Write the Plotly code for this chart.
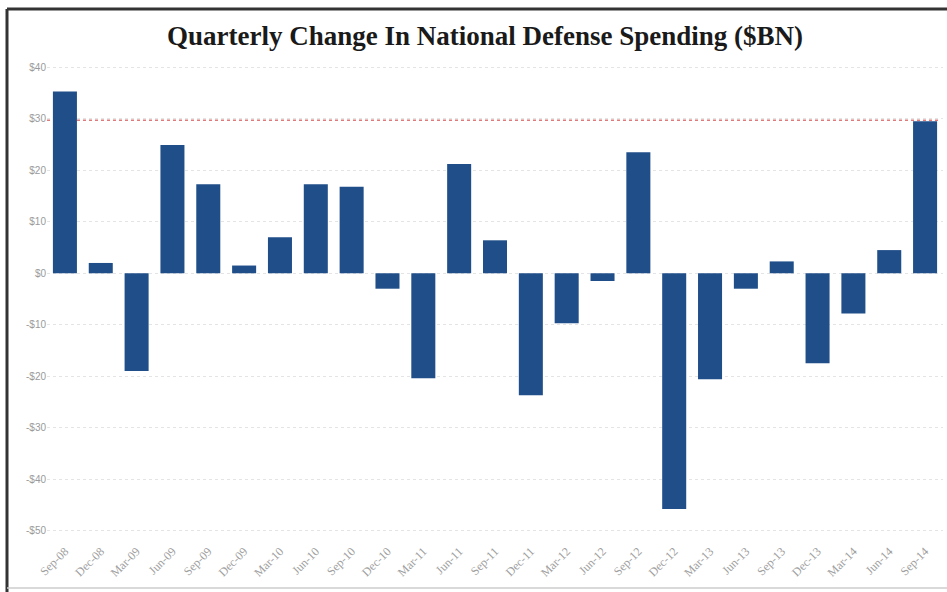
import plotly.graph_objects as go

categories = ["Sep-08", "Dec-08", "Mar-09", "Jun-09", "Sep-09", "Dec-09", "Mar-10", "Jun-10",
              "Sep-10", "Dec-10", "Mar-11", "Jun-11", "Sep-11", "Dec-11", "Mar-12", "Jun-12",
              "Sep-12", "Dec-12", "Mar-13", "Jun-13", "Sep-13", "Dec-13", "Mar-14", "Jun-14", "Sep-14"]
values = [35.3, 2.0, -19.0, 24.9, 17.3, 1.5, 7.0, 17.3, 16.8, -3.0, -20.4, 21.2, 6.4, -23.7,
          -9.7, -1.5, 23.5, -45.8, -20.6, -3.0, 2.3, -17.5, -7.8, 4.5, 29.5]
reference_level = 29.7
tick_vals = [40, 30, 20, 10, 0, -10, -20, -30, -40, -50]
tick_text = ["$40", "$30", "$20", "$10", "$0", "-$10", "-$20", "-$30", "-$40", "-$50"]

W, H = 947, 592
ML, MR, MT, MB = 47, 4, 57, 51
pw, ph = W - ML - MR, H - MT - MB

def px(x):
    return (x - ML) / pw

def py(y):
    return (H - MB - y) / ph

fig = go.Figure()
fig.add_trace(go.Bar(
    x=categories, y=values,
    marker=dict(color="#1f4e89", line=dict(width=0)),
    hoverinfo="x+y",
))

shapes = [
    dict(type="line", xref="x", yref="y", x0=-0.5, x1=24.4, y0=reference_level, y1=reference_level,
         line=dict(color="#e07a7a", width=1.5, dash="dot"), layer="below"),
    # frame
    dict(type="line", xref="paper", yref="paper", x0=px(7), x1=px(950), y0=py(9), y1=py(9),
         line=dict(color="#333333", width=3)),
    dict(type="line", xref="paper", yref="paper", x0=px(7), x1=px(7), y0=py(9), y1=py(595),
         line=dict(color="#333333", width=3)),
    dict(type="line", xref="paper", yref="paper", x0=px(7), x1=px(950), y0=py(588), y1=py(588),
         line=dict(color="#cccccc", width=1.5)),
]

fig.update_layout(
    width=W, height=H,
    margin=dict(l=ML, r=MR, t=MT, b=MB),
    paper_bgcolor="white", plot_bgcolor="white",
    title=dict(text="<b>Quarterly Change In National Defense Spending ($BN)</b>",
               x=px(485), xref="paper", xanchor="center", y=1 - 36 / H, yanchor="middle",
               font=dict(family="Liberation Serif", size=27, color="#1a1a1a")),
    bargap=0.33,
    showlegend=False,
    shapes=shapes,
    xaxis=dict(type="category", range=[-0.5, 24.5], tickangle=-45,
               tickfont=dict(family="Liberation Serif", size=12, color="#a0a0a0"),
               showgrid=False, showline=False, ticks="", zeroline=False),
    yaxis=dict(range=[-52, 42], tickvals=tick_vals, ticktext=tick_text,
               tickfont=dict(family="Liberation Sans", size=10, color="#9a9a9a"),
               showgrid=True, gridcolor="#e4e4e4", griddash="dot", gridwidth=1,
               zeroline=False, showline=False, ticks=""),
)

fig.write_html("out.html", config={"displayModeBar": False},
               post_script="document.body.style.margin='0';document.body.style.overflow='hidden';")
